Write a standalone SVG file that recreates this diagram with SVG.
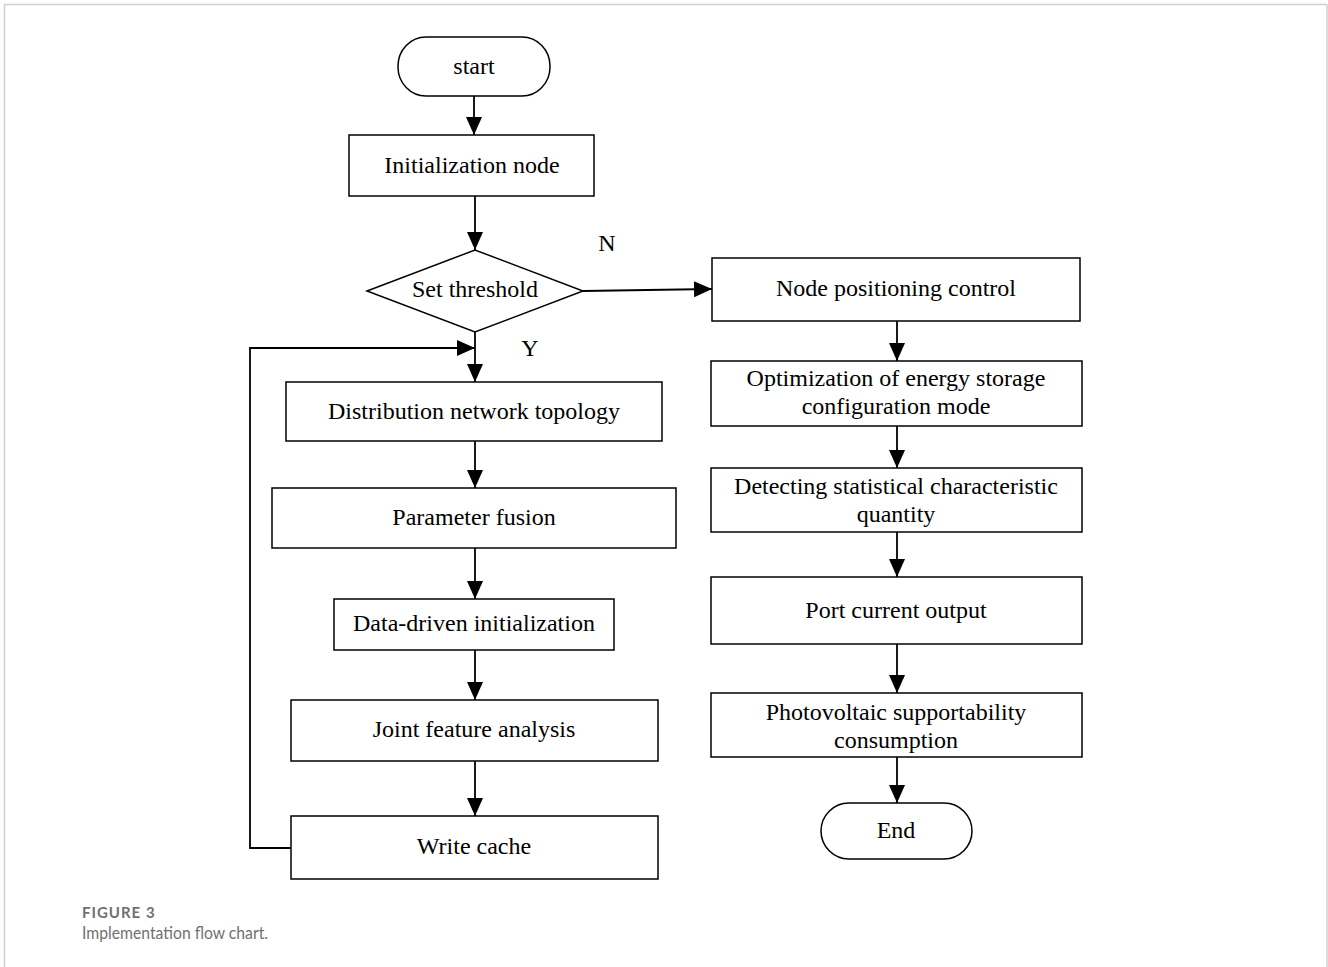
<svg xmlns="http://www.w3.org/2000/svg" width="1328" height="967" viewBox="0 0 1328 967">
<defs>
<marker id="ah" markerWidth="18" markerHeight="16" viewBox="0 0 18 16" refX="18" refY="8" orient="auto" markerUnits="userSpaceOnUse">
<path d="M0,0 L18,8 L0,16 Z" fill="#000"/>
</marker>
<style>
.box{fill:#fff;stroke:#000;stroke-width:1.5}
.t{font-family:"Liberation Serif","Times New Roman",serif;font-size:24px;fill:#000;text-anchor:middle;dominant-baseline:central}
.c{fill:none;stroke:#000;stroke-width:1.8}
.cap1{font-family:Lato,"Open Sans",sans-serif;font-size:15px;font-weight:bold;fill:#707070;letter-spacing:1px}
.cap2{font-family:Lato,"Open Sans",sans-serif;font-size:17px;fill:#707070}
</style>
</defs>
<rect width="1328" height="967" fill="#fff"/>
<path d="M4.5,967 V4.5 H1327" fill="none" stroke="#cfcfcf" stroke-width="1.5"/>
<path d="M1327,4.5 V967" fill="none" stroke="#cfcfcf" stroke-width="1.5"/>

<g id="connectors">
<path class="c" d="M474,96 V135" marker-end="url(#ah)"/>
<path class="c" d="M475,196 V250" marker-end="url(#ah)"/>
<path class="c" d="M583,291 L712,289" marker-end="url(#ah)"/>
<path class="c" d="M475,332 V382" marker-end="url(#ah)"/>
<path class="c" d="M291,848 H250 V348 H475" marker-end="url(#ah)"/>
<path class="c" d="M475,441 V488" marker-end="url(#ah)"/>
<path class="c" d="M475,548 V599" marker-end="url(#ah)"/>
<path class="c" d="M475,650 V700" marker-end="url(#ah)"/>
<path class="c" d="M475,761 V816" marker-end="url(#ah)"/>
<path class="c" d="M897,321 V361" marker-end="url(#ah)"/>
<path class="c" d="M897,426 V468" marker-end="url(#ah)"/>
<path class="c" d="M897,532 V577" marker-end="url(#ah)"/>
<path class="c" d="M897,644 V693" marker-end="url(#ah)"/>
<path class="c" d="M897,757 V803" marker-end="url(#ah)"/>
<text class="t" x="607" y="243">N</text>
<text class="t" x="530" y="348">Y</text>
</g>

<g id="start"><rect class="box" x="398" y="37" width="152" height="59" rx="28" ry="29"/><text class="t" x="474" y="66">start</text></g>
<g id="init"><rect class="box" x="349" y="135" width="245" height="61"/><text class="t" x="472" y="165">Initialization node</text></g>
<g id="threshold"><polygon class="box" points="367,291 475,250 583,291 475,332"/><text class="t" x="475" y="289">Set threshold</text></g>
<g id="topology"><rect class="box" x="286" y="382" width="376" height="59"/><text class="t" x="474" y="411">Distribution network topology</text></g>
<g id="fusion"><rect class="box" x="272" y="488" width="404" height="60"/><text class="t" x="474" y="517">Parameter fusion</text></g>
<g id="datadriven"><rect class="box" x="334" y="599" width="280" height="51"/><text class="t" x="474" y="623">Data-driven initialization</text></g>
<g id="joint"><rect class="box" x="291" y="700" width="367" height="61"/><text class="t" x="474" y="729">Joint feature analysis</text></g>
<g id="cache"><rect class="box" x="291" y="816" width="367" height="63"/><text class="t" x="474" y="846">Write cache</text></g>

<g id="positioning"><rect class="box" x="712" y="258" width="368" height="63"/><text class="t" x="896" y="288">Node positioning control</text></g>
<g id="optimization"><rect class="box" x="711" y="361" width="371" height="65"/><text class="t" x="896" y="378">Optimization of energy storage</text><text class="t" x="896" y="406">configuration mode</text></g>
<g id="detecting"><rect class="box" x="711" y="468" width="371" height="64"/><text class="t" x="896" y="486">Detecting statistical characteristic</text><text class="t" x="896" y="514">quantity</text></g>
<g id="port"><rect class="box" x="711" y="577" width="371" height="67"/><text class="t" x="896" y="610">Port current output</text></g>
<g id="pv"><rect class="box" x="711" y="693" width="371" height="64"/><text class="t" x="896" y="712">Photovoltaic supportability</text><text class="t" x="896" y="740">consumption</text></g>
<g id="end"><rect class="box" x="821" y="803" width="151" height="56" rx="28" ry="28"/><text class="t" x="896" y="830">End</text></g>

<text class="cap1" x="82" y="918">FIGURE 3</text>
<text class="cap2" x="82" y="939" textLength="186" lengthAdjust="spacingAndGlyphs">Implementation flow chart.</text>
</svg>
